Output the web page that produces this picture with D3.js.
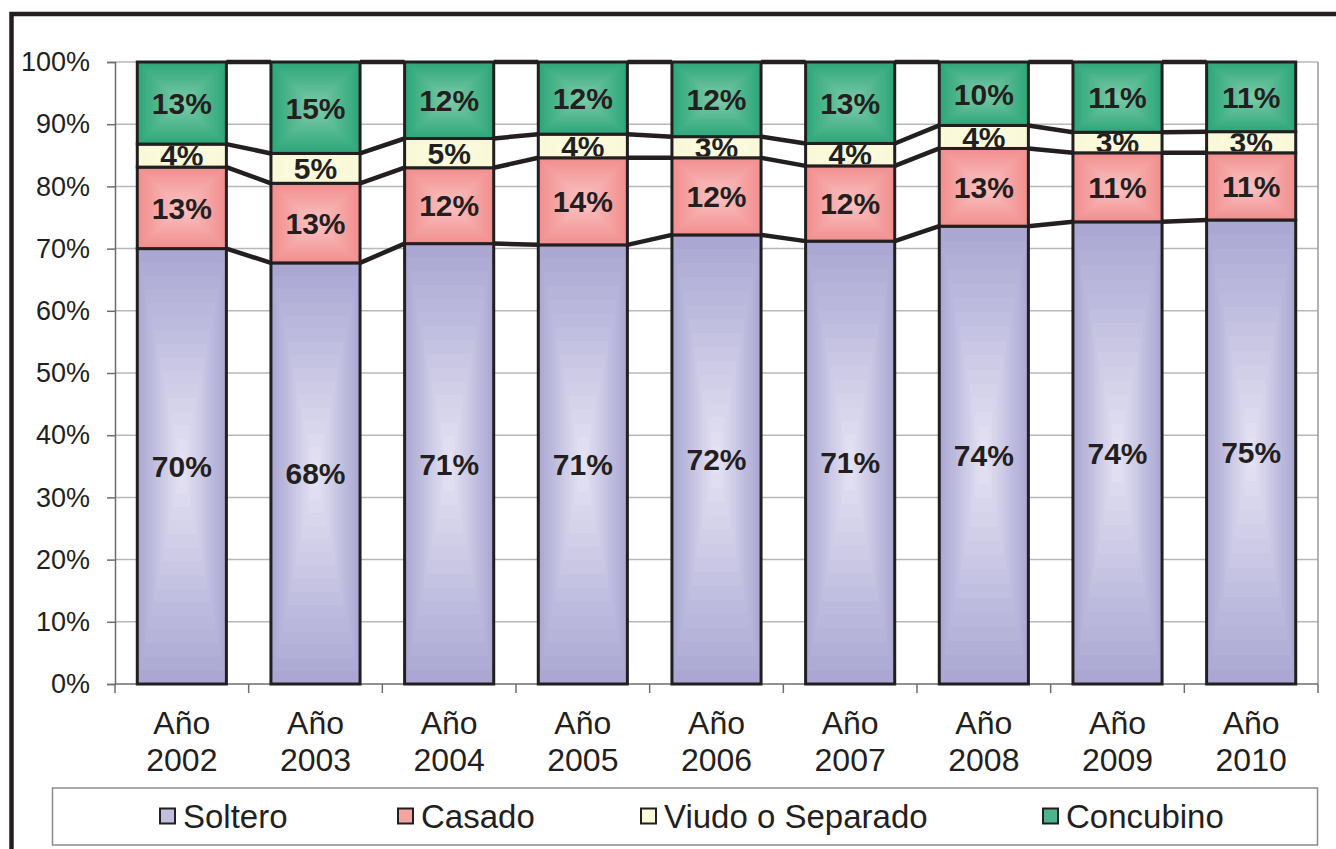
<!DOCTYPE html>
<html>
<head>
<meta charset="utf-8">
<script src="https://cdn.jsdelivr.net/npm/d3@7"></script>
<style>
  html, body { margin: 0; padding: 0; background: #fff; }
  svg { display: block; font-family: "Liberation Sans", Arial, sans-serif; }
</style>
</head>
<body>
<svg id="chart" width="1336" height="849"></svg>
<script>
const years = ['2002', '2003', '2004', '2005', '2006', '2007', '2008', '2009', '2010']
const soltero = [70.0, 67.7, 70.8, 70.6, 72.2, 71.2, 73.6, 74.3, 74.6]
const casado = [13.1, 12.8, 12.2, 14.0, 12.4, 12.1, 12.5, 11.1, 10.8]
const viudo = [3.7, 4.8, 4.7, 3.8, 3.4, 3.6, 3.7, 3.3, 3.4]
const concubino = [13.2, 14.7, 12.3, 11.6, 12.0, 13.1, 10.2, 11.3, 11.2]
const seriesNames = ['Soltero', 'Casado', 'Viudo o Separado', 'Concubino']
const yTicks = [0, 10, 20, 30, 40, 50, 60, 70, 80, 90, 100]

// edge / center colours of the "from center" gradient
const edgeColor = ['#aaa8d3', '#f28f8f', '#f9f9d8', '#2ea77a']
const centerColor = ['#e4e2f2', '#f9c2c2', '#fbfbe0', '#7ccaa8']
const ink = '#231f20'

const plotLeft = 115, plotRight = 1318, plotTop = 62, plotBottom = 684

const table = years.map((y, i) => ({
    year: y,
    'Soltero': soltero[i],
    'Casado': casado[i],
    'Viudo o Separado': viudo[i],
    'Concubino': concubino[i]
}))
const stacked = d3.stack().keys(seriesNames)(table)

const x = d3.scaleBand()
    .domain(years)
    .range([plotLeft, plotRight])
    .paddingInner(1 / 3)
    .paddingOuter(1 / 6)
const y = d3.scaleLinear().domain([0, 100]).range([plotBottom, plotTop])

const svg = d3.select('#chart')

// outer frame (runs off the picture on right and bottom)
svg.append('rect')
    .attr('x', 11.5).attr('y', 14)
    .attr('width', 1400).attr('height', 900)
    .attr('fill', 'none')
    .attr('stroke', ink)
    .attr('stroke-width', 4.5)

// gridlines
svg.append('g')
    .selectAll('line')
    .data(yTicks.slice(1))
    .join('line')
    .attr('x1', plotLeft).attr('x2', plotRight)
    .attr('y1', d => y(d)).attr('y2', d => y(d))
    .attr('stroke', '#b8b8b8')
    .attr('stroke-width', 1.5)

// plot area border right
svg.append('line')
    .attr('x1', plotRight).attr('x2', plotRight)
    .attr('y1', plotTop).attr('y2', plotBottom)
    .attr('stroke', '#9a9a9a').attr('stroke-width', 1.5)

// y axis
const yAxis = svg.append('g')
    .attr('transform', `translate(${plotLeft},0)`)
    .call(d3.axisLeft(y).tickValues(yTicks).tickSize(8).tickPadding(17).tickFormat(d => d + '%'))
yAxis.select('.domain').attr('stroke', '#6d6d6d').attr('stroke-width', 1.5)
yAxis.selectAll('.tick line').attr('stroke', '#6d6d6d').attr('stroke-width', 1.5)
yAxis.selectAll('.tick text')
    .attr('fill', ink)
    .style('font-size', '27px')
    .style('font-family', '"Liberation Sans", Arial, sans-serif')

// x axis line + category ticks
svg.append('line')
    .attr('x1', plotLeft).attr('x2', plotRight)
    .attr('y1', plotBottom).attr('y2', plotBottom)
    .attr('stroke', '#6d6d6d').attr('stroke-width', 1.5)
svg.append('g')
    .selectAll('line')
    .data(years.map((d, i) => plotLeft + i * x.step()).concat([plotRight]))
    .join('line')
    .attr('x1', d => d).attr('x2', d => d)
    .attr('y1', plotBottom).attr('y2', plotBottom + 9)
    .attr('stroke', '#6d6d6d').attr('stroke-width', 1.5)

const xLabels = svg.append('g')
    .selectAll('text')
    .data(years)
    .join('text')
    .attr('text-anchor', 'middle')
    .attr('fill', ink)
    .style('font-size', '32px')
xLabels.append('tspan')
    .attr('x', d => x(d) + x.bandwidth() / 2)
    .attr('y', 734)
    .text('Año')
xLabels.append('tspan')
    .attr('x', d => x(d) + x.bandwidth() / 2)
    .attr('y', 771)
    .text(d => d)

// bars with a stepped rectangular gradient
const steps = 16
const defs = svg.append('defs')
const barLayer = svg.append('g')
const labelLayer = svg.append('g')

stacked.forEach((layer, si) => {
    const col = d3.interpolateRgb(edgeColor[si], centerColor[si])
    layer.forEach((seg, i) => {
        const x0 = x(years[i])
        const w = x.bandwidth()
        const y0 = y(seg[1])
        const h = y(seg[0]) - y(seg[1])
        const g = barLayer.append('g')
        g.selectAll('rect')
            .data(d3.range(steps))
            .join('rect')
            .attr('x', k => x0 + (k / steps) * w / 2)
            .attr('y', k => y0 + (k / steps) * h / 2)
            .attr('width', k => w * (1 - k / steps))
            .attr('height', k => h * (1 - k / steps))
            .attr('fill', k => col(k / (steps - 1)))
        g.append('rect')
            .attr('x', x0).attr('y', y0)
            .attr('width', w).attr('height', h)
            .attr('fill', 'none')
            .attr('stroke', ink)
            .attr('stroke-width', 3)

        const id = `clip-${si}-${i}`
        defs.append('clipPath').attr('id', id)
            .append('rect')
            .attr('x', x0).attr('y', y0 + 1.5)
            .attr('width', w).attr('height', h - 3)
        labelLayer.append('text')
            .attr('clip-path', `url(#${id})`)
            .attr('x', x0 + w / 2)
            .attr('y', y0 + h / 2)
            .attr('dy', '0.36em')
            .attr('text-anchor', 'middle')
            .attr('fill', ink)
            .style('font-size', '30px')
            .style('font-weight', 'bold')
            .text(Math.round(seg[1] - seg[0]) + '%')
    })
})

// series lines between bars
const seriesLines = svg.append('g')
stacked.forEach(layer => {
    seriesLines.selectAll(null)
        .data(layer.slice(0, -1))
        .join('line')
        .attr('x1', (d, i) => x(years[i]) + x.bandwidth())
        .attr('y1', d => y(d[1]))
        .attr('x2', (d, i) => x(years[i + 1]))
        .attr('y2', (d, i) => y(layer[i + 1][1]))
        .attr('stroke', ink)
        .attr('stroke-width', 4.5)
})

// legend
const legendX = [160, 398, 641, 1043]
svg.append('rect')
    .attr('x', 52.5).attr('y', 788)
    .attr('width', 1265).attr('height', 57)
    .attr('fill', '#fff')
    .attr('stroke', '#8a8a8a')
    .attr('stroke-width', 1.5)
const legend = svg.append('g')
    .selectAll('g')
    .data(seriesNames)
    .join('g')
    .attr('transform', (d, i) => `translate(${legendX[i]},816)`)
legend.append('rect')
    .attr('x', 0).attr('y', -7.5)
    .attr('width', 15).attr('height', 15)
    .attr('fill', (d, i) => d3.interpolateRgb(edgeColor[i], centerColor[i])(0.4))
    .attr('stroke', ink)
    .attr('stroke-width', 2)
legend.append('text')
    .attr('x', 23)
    .attr('y', 12)
    .attr('fill', ink)
    .style('font-size', '33px')
    .text(d => d)
</script>
</body>
</html>
